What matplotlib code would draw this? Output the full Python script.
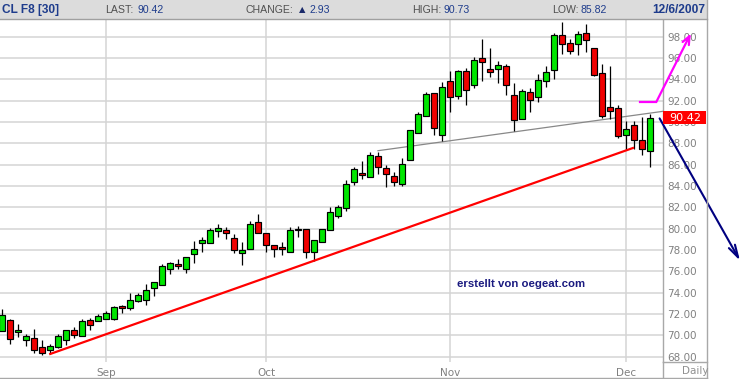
import matplotlib
matplotlib.use("Agg")
import matplotlib.pyplot as plt
import matplotlib.transforms as mtransforms
from matplotlib.patches import Rectangle
from matplotlib.lines import Line2D
import numpy as np

# ---------------- data ----------------
opens = [70.41, 71.47, 70.34, 69.59, 69.78, 68.91, 68.66, 68.91, 69.59, 70.53,
         69.94, 71.47, 71.38, 71.56, 71.50, 72.78, 72.59, 73.25, 73.34, 74.41,
         74.75, 76.19, 76.66, 76.19, 77.59, 78.63, 78.63, 79.75, 79.84, 79.09,
         77.69, 78.06, 80.59, 79.56, 78.44, 78.25, 77.78, 79.90, 79.94, 77.78,
         78.72, 79.84, 81.16, 81.90, 84.34, 85.22, 84.84, 86.81, 85.69, 84.94,
         84.19, 86.44, 88.97, 90.56, 92.72, 88.78, 93.84, 92.44, 94.78, 93.47,
         95.97, 94.94, 94.94, 95.22, 92.50, 90.25, 92.78, 92.31, 93.81, 94.84,
         98.13, 97.38, 97.28, 98.31, 96.91, 94.56, 91.38, 91.28, 88.75, 89.69,
         88.28, 87.25]
highs = [72.44, 71.50, 71.03, 70.09, 70.63, 69.53, 69.16, 70.09, 70.53, 70.78,
         71.56, 71.63, 72.03, 72.25, 72.75, 72.88, 73.97, 73.97, 74.84, 74.97,
         76.66, 76.91, 77.13, 77.31, 78.81, 79.19, 80.03, 80.44, 80.13, 79.47,
         78.72, 80.69, 81.34, 79.56, 78.44, 78.72, 80.13, 80.22, 79.94, 78.90,
         79.94, 82.00, 82.19, 84.56, 85.75, 86.38, 87.16, 87.22, 85.97, 85.31,
         86.63, 89.25, 90.94, 92.81, 92.72, 93.75, 94.78, 94.88, 95.06, 96.13,
         97.78, 96.91, 95.75, 95.41, 93.63, 93.06, 93.16, 94.47, 95.22, 98.30,
         99.34, 97.75, 98.50, 99.16, 96.91, 95.41, 95.22, 91.56, 90.06, 90.06,
         90.44, 90.73]
lows = [70.41, 69.19, 69.84, 69.00, 68.38, 68.16, 68.28, 68.84, 69.12, 69.78,
        69.94, 70.47, 71.38, 71.50, 71.44, 72.09, 72.34, 73.13, 72.84, 73.66,
        74.75, 75.75, 76.19, 75.81, 76.75, 77.78, 78.63, 79.19, 79.00, 77.69,
        76.63, 78.06, 79.56, 77.78, 77.31, 77.50, 77.78, 79.19, 77.22, 76.94,
        78.72, 79.84, 80.97, 81.69, 84.09, 84.66, 84.84, 85.13, 83.88, 84.00,
        84.00, 86.44, 88.97, 90.56, 88.78, 88.22, 90.94, 92.16, 91.59, 93.19,
        93.88, 94.25, 93.69, 92.50, 89.16, 90.25, 90.91, 91.84, 93.25, 94.00,
        96.34, 96.34, 96.25, 96.53, 94.28, 90.41, 90.31, 88.47, 87.34, 87.44,
        86.88, 85.82]
closes = [71.88, 69.69, 70.53, 69.97, 68.66, 68.38, 69.03, 69.97, 70.53, 70.06,
          71.38, 71.00, 71.84, 72.13, 72.69, 72.59, 73.34, 73.81, 74.28, 74.97,
          76.47, 76.75, 76.47, 77.31, 78.06, 78.90, 79.84, 80.03, 79.56, 77.97,
          77.97, 80.41, 79.56, 78.44, 78.06, 78.06, 79.84, 80.00, 77.78, 78.90,
          79.94, 81.53, 82.00, 84.19, 85.63, 85.03, 86.91, 85.78, 85.13, 84.38,
          86.06, 89.25, 90.75, 92.63, 89.44, 93.28, 92.34, 94.78, 93.00, 95.81,
          95.59, 94.66, 95.31, 93.44, 90.16, 92.88, 92.03, 93.91, 94.66, 98.13,
          97.28, 96.63, 98.22, 97.66, 94.38, 90.59, 91.00, 88.66, 89.31, 88.28,
          87.49, 90.42]

month_labels = ["Sep", "Oct", "Nov", "Dec"]
month_start = [14, 34, 57, 79]          # candle number of first session in month
price_ticks = [68, 70, 72, 74, 76, 78, 80, 82, 84, 86, 88, 90, 92, 94, 96, 98]

# drawn annotations (candle number, price)
red_trend = ([6.9, 80.0], [68.22, 87.6])
grey_trend = ([48.0, 83.6], [87.31, 91.0])
magenta_path = ([80.7, 82.8], [91.9, 91.9])
magenta_tip = (87.1, 98.3)
navy_start = (83.2, 90.34)
navy_tip = (93.25, 77.0)

header_symbol = "CL F8 [30]"
header_last = "90.42"
header_change = "2.93"
header_high = "90.73"
header_low = "85.82"
header_date = "12/6/2007"
last_price = 90.42

# ---------------- figure ----------------
W, H = 743, 379
fig = plt.figure(figsize=(W / 100, H / 100), dpi=100)
fig.patch.set_facecolor("white")

def fx(px):
    return px / W

def fy(py):
    return 1 - py / H

ax_l, ax_r, ax_t, ax_b = 0, 663, 20, 362
ax = fig.add_axes([fx(ax_l), fy(ax_b), fx(ax_r - ax_l), (ax_b - ax_t) / H])
ax.set_facecolor("white")

n = len(opens)
x = np.arange(1, n + 1)
o = np.array(opens); h = np.array(highs); l = np.array(lows); c = np.array(closes)
up = c >= o
colors = np.where(up, "#00e600", "#f00000")

ax.vlines(x, l, h, color="black", lw=0.9, zorder=3)
bottoms = np.minimum(o, c)
heights = np.maximum(np.abs(c - o), 0.06)
ax.bar(x, heights, bottom=bottoms, width=0.72, color=colors,
       edgecolor="black", linewidth=0.85, zorder=4)

ax.set_xlim(0.75, 83.625)
ax.set_ylim(67.50, 99.565)

grid_c = "#d4d4d4"
ax.set_yticks(price_ticks)
ax.set_yticklabels([f"{t:.2f}" for t in price_ticks])
ax.set_xticks(month_start)
ax.set_xticklabels(month_labels)
ax.grid(True, color=grid_c, lw=1.1, zorder=0)
ax.set_axisbelow(True)
ax.yaxis.tick_right()
ax.tick_params(axis="y", length=0, pad=3, labelsize=7.5, labelcolor="#808080")
ax.tick_params(axis="x", length=0, pad=4, labelsize=7.5, labelcolor="#808080")
for s in ["top", "left", "bottom"]:
    ax.spines[s].set_visible(False)
ax.spines["right"].set_color("#a8a8a8")
ax.spines["right"].set_linewidth(1.0)

# trend lines
ax.plot(red_trend[0], red_trend[1], color="#ff0000", lw=1.6, zorder=5,
        solid_capstyle="butt")
ax.plot(grey_trend[0], grey_trend[1], color="#888888", lw=0.9, zorder=2)

# magenta arrow
ax.plot(magenta_path[0], magenta_path[1], color="#ff00ff", lw=1.6, zorder=6,
        clip_on=False)
ax.annotate("", xy=magenta_tip, xytext=(magenta_path[0][1], magenta_path[1][1]),
            arrowprops=dict(arrowstyle="->,head_length=0.6,head_width=0.25",
                            color="#ff00ff", lw=1.6, shrinkA=0, shrinkB=0),
            annotation_clip=False, zorder=6)

# navy arrow
ax.annotate("", xy=navy_tip, xytext=navy_start,
            arrowprops=dict(arrowstyle="->,head_length=0.9,head_width=0.25",
                            color="#000080", lw=1.5, shrinkA=0, shrinkB=0),
            annotation_clip=False, zorder=6)

ax.text(65.9, 74.8, "erstellt von oegeat.com", color="#1a1a80",
        fontsize=8.2, fontweight="bold", family=["Liberation Sans", "DejaVu Sans"],
        ha="center", va="center", zorder=7)

# last price box
bt = mtransforms.blended_transform_factory(fig.transFigure, ax.transData)
ax.add_patch(Rectangle((fx(663), last_price - 0.62), fx(43), 1.2,
                       transform=bt, facecolor="#ff0000", edgecolor="none",
                       clip_on=False, zorder=10))
ax.text(fx(685), last_price, f"{last_price:.2f}", transform=bt, color="white",
        fontsize=8, ha="center", va="center", zorder=11)

# ---------------- frame lines ----------------
line_c = "#a8a8a8"
fig.add_artist(Line2D([fx(707), fx(707)], [fy(0), fy(378)], color=line_c, lw=1.0))
fig.add_artist(Line2D([fx(0), fx(707)], [fy(378), fy(378)], color=line_c, lw=1.0))
fig.add_artist(Line2D([fx(663), fx(663)], [fy(362), fy(378)], color=line_c, lw=1.0))
fig.add_artist(Line2D([fx(663), fx(707)], [fy(362), fy(362)], color=line_c, lw=1.0))
fig.text(fx(695), fy(371), "Daily", color="#909090", fontsize=7.5,
         ha="center", va="center")

# ---------------- header ----------------
fig.add_artist(Rectangle((fx(0), fy(19)), fx(707), 19 / H, transform=fig.transFigure,
                         facecolor="#dcdcdc", edgecolor="none"))
fig.add_artist(Line2D([fx(0), fx(707)], [fy(19), fy(19)], color="#a0a0a0", lw=1.0))

hfam = ["Liberation Sans Narrow", "Liberation Sans", "DejaVu Sans"]
navy = "#1e3c8c"
grey = "#505050"
yy = fy(10)
fs = 7.6
fig.text(fx(2), yy, header_symbol, color=navy, fontsize=8.6, fontweight="bold",
         family=hfam, ha="left", va="center")
fig.text(fx(105), yy, "LAST:", color=grey, fontsize=fs, family=hfam, ha="left", va="center")
fig.text(fx(164), yy, header_last, color=navy, fontsize=fs, family=hfam, ha="right", va="center")
fig.text(fx(246), yy, "CHANGE:", color=grey, fontsize=fs, family=hfam, ha="left", va="center")
fig.text(fx(302), yy, "\u25b2", color="#1a2a6a", fontsize=6, family=["DejaVu Sans"],
         ha="center", va="center")
fig.text(fx(330), yy, header_change, color=navy, fontsize=fs, family=hfam, ha="right", va="center")
fig.text(fx(412), yy, "HIGH:", color=grey, fontsize=fs, family=hfam, ha="left", va="center")
fig.text(fx(470), yy, header_high, color=navy, fontsize=fs, family=hfam, ha="right", va="center")
fig.text(fx(552), yy, "LOW:", color=grey, fontsize=fs, family=hfam, ha="left", va="center")
fig.text(fx(607), yy, header_low, color=navy, fontsize=fs, family=hfam, ha="right", va="center")
fig.text(fx(705), yy, header_date, color=navy, fontsize=8.6, fontweight="bold",
         family=hfam, ha="right", va="center")

fig.savefig("out.png", dpi=100)
